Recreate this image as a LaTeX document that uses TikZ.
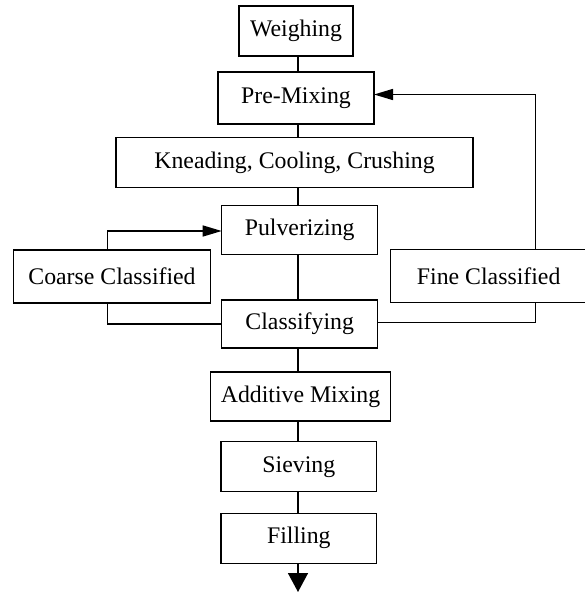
\documentclass[tikz,border=0pt]{standalone}
\usepackage{fontspec}
\setmainfont{Liberation Serif}
\usetikzlibrary{arrows.meta}
\begin{document}
\begin{tikzpicture}[x=1pt,y=-1pt,
  procbox/.style={draw,line width=1.5pt,inner sep=0pt,outer sep=0pt,
    font=\fontsize{23.8}{28}\selectfont,text=black},
  conn/.style={line width=1.5pt},
  sidearr/.style={conn,-{Triangle[length=19pt,width=11pt]}},
  endarr/.style={conn,-{Triangle[length=19pt,width=20pt]}}]
\useasboundingbox (0,0) rectangle (584,592);
\coordinate (spine) at (298,0);
\node[procbox,minimum width=114pt,minimum height=50pt] (weigh) at (296,31) {Weighing};
\node[procbox,minimum width=156pt,minimum height=52pt] (premix) at (296,98) {Pre-Mixing};
\node[procbox,minimum width=357pt,minimum height=50pt] (knead) at (294.5,162.6) {Kneading, Cooling, Crushing};
\node[procbox,minimum width=156pt,minimum height=49pt] (pulv) at (299.7,230) {Pulverizing};
\node[procbox,minimum width=197.4pt,minimum height=52.7pt] (coarse) at (112,276.4) {Coarse Classified};
\node[procbox,minimum width=196pt,minimum height=53pt] (fine) at (488.7,276) {Fine Classified};
\node[procbox,minimum width=156pt,minimum height=48.3pt] (classif) at (299.7,324) {Classifying};
\node[procbox,minimum width=179.6pt,minimum height=49.3pt] (addmix) at (300.5,396.4) {Additive Mixing};
\node[procbox,minimum width=155.7pt,minimum height=50pt] (sieve) at (298.8,466.7) {Sieving};
\node[procbox,minimum width=155.7pt,minimum height=50pt] (fill) at (298.8,538.3) {Filling};
\coordinate (out) at (298,592);
% spine
\draw[conn] (weigh.south -| spine) -- (premix.north -| spine);
\draw[conn] (premix.south -| spine) -- (knead.north -| spine);
\draw[conn] (knead.south -| spine) -- (pulv.north -| spine);
\draw[conn] (pulv.south -| spine) -- (classif.north -| spine);
\draw[conn] (classif.south -| spine) -- (addmix.north -| spine);
\draw[conn] (addmix.south -| spine) -- (sieve.north -| spine);
\draw[conn] (sieve.south -| spine) -- (fill.north -| spine);
\draw[endarr] (fill.south -| spine) -- (out);
% coarse loop
\draw[sidearr] ([xshift=-4.3pt]coarse.north) |- ([yshift=-1pt]pulv.west);
\draw[conn] ([xshift=-4.3pt]coarse.south) |- (classif.west);
% fine loop
\draw[sidearr] ([xshift=46.6pt]fine.north) |- ([yshift=3.5pt]premix.east);
\draw[conn] ([xshift=46.6pt]fine.south) |- ([yshift=1.7pt]classif.east);
\end{tikzpicture}
\end{document}
